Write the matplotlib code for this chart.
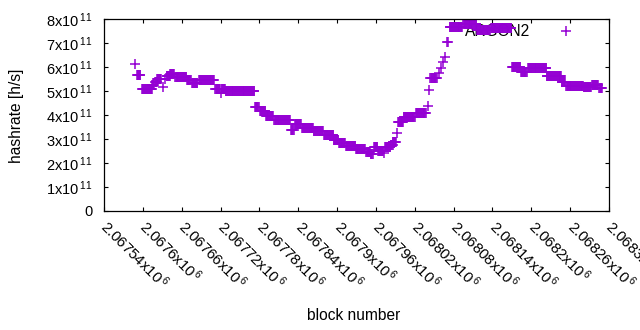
import numpy as np
import matplotlib
matplotlib.use('Agg')
import matplotlib.pyplot as plt
from matplotlib.ticker import FixedLocator, FuncFormatter

plt.rcParams['font.family'] = ['Liberation Sans', 'DejaVu Sans']
plt.rcParams['mathtext.fontset'] = 'custom'
plt.rcParams['mathtext.rm'] = 'Liberation Sans'
plt.rcParams['mathtext.default'] = 'regular'

# runs of blocks with a constant hashrate (x1e11 h/s)
run_start = [2067588, 2067591, 2067599, 2067614, 2067619, 2067622, 2067631, 2067634,
             2067637, 2067642, 2067650, 2067668, 2067676, 2067687, 2067711, 2067713,
             2067721, 2067722, 2067728, 2067773, 2067781, 2067790, 2067803, 2067829,
             2067835, 2067846, 2067864, 2067880, 2067895, 2067903, 2067914, 2067929,
             2067945, 2067952, 2067957, 2067963, 2067972, 2067974, 2067983, 2067986,
             2067993, 2067994, 2068003, 2068022, 2068040, 2068042, 2068044, 2068057,
             2068060, 2068064, 2068067, 2068070, 2068074, 2068095, 2068116, 2068138,
             2068170, 2068184, 2068195, 2068224, 2068247, 2068254, 2068281, 2068294,
             2068305]
run_end = [2067588, 2067596, 2067614, 2067617, 2067622, 2067628, 2067631, 2067634,
           2067642, 2067648, 2067667, 2067674, 2067684, 2067710, 2067711, 2067719,
           2067721, 2067727, 2067772, 2067779, 2067789, 2067801, 2067827, 2067833,
           2067844, 2067863, 2067878, 2067894, 2067902, 2067912, 2067928, 2067943,
           2067951, 2067955, 2067962, 2067971, 2067972, 2067982, 2067986, 2067991,
           2067993, 2068002, 2068020, 2068037, 2068040, 2068042, 2068054, 2068057,
           2068060, 2068064, 2068067, 2068071, 2068093, 2068115, 2068136, 2068169,
           2068183, 2068193, 2068223, 2068246, 2068252, 2068280, 2068292, 2068303,
           2068309]
run_value = [6.11, 5.65, 5.10, 5.25, 5.36, 5.50, 5.15, 5.49,
             5.64, 5.70, 5.57, 5.46, 5.35, 5.46, 5.07, 5.08,
             4.93, 5.07, 4.98, 4.32, 4.18, 3.96, 3.78, 3.39,
             3.61, 3.46, 3.32, 3.17, 2.96, 2.82, 2.72, 2.57,
             2.47, 2.36, 2.65, 2.51, 2.40, 2.65, 2.75, 2.89,
             3.24, 3.72, 3.90, 4.07, 4.39, 5.03, 5.53, 5.76,
             5.94, 6.20, 6.40, 7.03, 7.65, 7.78, 7.54, 7.61,
             5.99, 5.80, 5.97, 5.62, 5.39, 5.22, 5.15, 5.25,
             5.11]

xticks = [2067540 + 60 * i for i in range(14)]
yticks = [0, 1e11, 2e11, 3e11, 4e11, 5e11, 6e11, 7e11, 8e11]

blocks = []
rates = []
for s, e, v in zip(run_start, run_end, run_value):
    for b in range(s, e + 1):
        blocks.append(b)
        rates.append(v * 1e11)

fig = plt.figure(figsize=(6.4, 3.3), dpi=100)
ax = fig.add_axes([104 / 640, 119 / 330, 505 / 640, 192 / 330])

ax.plot(blocks, rates, '+', color='#9400D3', ms=6.5, mew=1.1,
        label='ARGON2', zorder=2)

ax.set_xlim(xticks[0], xticks[-1])
ax.set_ylim(0, 8e11)
ax.xaxis.set_major_locator(FixedLocator(xticks))
ax.yaxis.set_major_locator(FixedLocator(yticks))


def xfmt(v, pos):
    return '%gx10$^{\\,6}$' % (v / 1e6)


def yfmt(v, pos):
    if v == 0:
        return '0'
    return '%dx10$^{\\,11}$' % round(v / 1e11)


ax.xaxis.set_major_formatter(FuncFormatter(xfmt))
ax.yaxis.set_major_formatter(FuncFormatter(yfmt))
ax.tick_params(direction='in', length=3, width=0.8, top=True, right=True,
               colors='black')
ax.tick_params(axis='y', pad=8.5, labelsize=10.5)
ax.tick_params(axis='x', pad=9, labelsize=10.8)
for lab in ax.get_xticklabels():
    lab.set_rotation(-45)
    lab.set_rotation_mode('anchor')
    lab.set_ha('left')
    lab.set_va('center')
for sp in ax.spines.values():
    sp.set_linewidth(0.9)

fig.text(354 / 640, 1 - 315 / 330, 'block number', ha='center', va='center', fontsize=11.2)
fig.text(17 / 640, 1 - 116 / 330, 'hashrate [h/s]', ha='center', va='center',
         rotation=90, fontsize=11.2)

leg = ax.legend(loc='center right', bbox_to_anchor=(0.9457, 0.935), frameon=False,
                markerfirst=False, fontsize=11.2, borderpad=0, borderaxespad=0,
                handlelength=2, handletextpad=1.3, numpoints=1)
leg.set_zorder(1)

fig.savefig('out.png', dpi=100)
